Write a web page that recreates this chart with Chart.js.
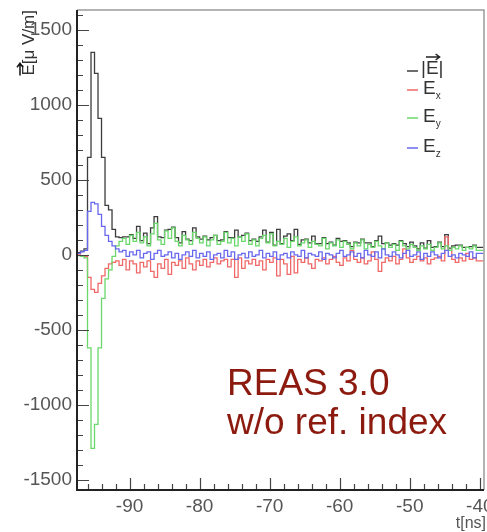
<!DOCTYPE html>
<html>
<head>
<meta charset="utf-8">
<script src="https://cdn.jsdelivr.net/npm/chart.js@4.4.1/dist/chart.umd.min.js"></script>
<style>
html, body { margin: 0; padding: 0; background: #fff; }
#wrap { position: relative; width: 487px; height: 532px; }
</style>
</head>
<body>
<div id="wrap"><canvas id="chart"></canvas></div>
<script>
// histogram bins: 0.5 ns wide, first bin starts at -97.5 ns
const binStart = -97.5;
const binWidth = 0.5;
const xTicks = [-90, -80, -70, -60, -50, -40];
const yTicks = [-1500, -1000, -500, 0, 500, 1000, 1500];

// |E|, Ex, Ey, Ez in µV/m, one value per bin
const eAbs = [10,15,25,40,650,1350,1210,910,650,330,
  300,170,120,115,120,120,135,110,190,95,
  145,75,180,255,120,115,165,170,185,115,
  80,155,105,95,180,120,105,125,100,115,
  130,95,100,155,115,115,165,120,130,145,
  95,105,90,120,165,85,150,65,170,75,
  125,140,95,170,70,100,105,80,125,75,
  75,115,75,85,65,110,90,95,80,55,
  85,80,105,80,80,55,95,125,75,80,
  65,75,65,95,75,55,85,60,40,80,
  45,95,50,55,85,55,135,45,60,65,
  65,50,50,55,65,50];
const eX = [0,0,-5,-10,-150,-230,-250,-190,-140,-90,
  -60,-50,-40,-70,-30,-100,-40,-60,-120,-50,
  -80,-40,-110,-150,-60,-90,-30,-130,-50,-70,
  -40,-90,-20,-60,-100,-40,-70,-30,-80,-50,
  -20,-60,-40,-30,-80,-30,-150,-20,-90,-40,
  -60,-30,-70,-40,-100,-30,-50,-20,-140,-30,
  -60,-130,-10,-120,-30,-50,-20,-60,-90,-30,
  -40,-20,-60,-30,-10,-50,-70,-20,-40,30,
  -30,-50,-20,-60,-40,20,-30,-110,-50,-20,
  -40,-10,-60,-30,40,-20,-50,-30,-10,-40,
  -20,-60,-30,-20,-10,-40,120,30,-30,-50,
  -20,-40,10,-30,-20,-40];
const eY = [0,-5,-10,-20,-620,-1290,-1130,-620,-290,-160,
  -100,-10,60,90,110,70,130,90,150,80,
  120,60,140,210,100,70,160,110,180,90,
  60,130,100,70,150,110,80,120,60,100,
  130,70,90,150,80,110,60,120,90,140,
  70,100,60,110,130,80,140,60,90,70,
  110,50,90,120,60,80,100,50,90,70,
  60,110,40,80,60,100,50,90,70,40,
  80,60,100,40,70,50,90,60,40,80,
  50,70,30,90,60,40,70,50,30,60,
  40,70,30,50,80,40,60,30,50,40,
  60,30,50,40,60,30];
const eZ = [5,10,20,30,290,350,340,270,190,130,
  90,60,40,20,30,-10,20,0,30,-20,
  10,20,-30,10,30,-10,0,20,-20,10,
  -30,0,20,-10,30,-20,10,-10,20,-30,
  0,10,-20,30,-10,20,-30,0,10,-20,
  20,-10,0,30,-20,10,-10,20,-30,0,
  10,-20,20,0,-10,30,-20,10,0,-10,
  20,-30,10,0,-20,10,30,-10,0,20,
  -10,10,-20,30,0,-10,20,-20,40,0,
  -10,20,0,-20,10,30,-10,0,20,-30,
  10,-10,20,0,-20,10,30,-10,0,-20,
  10,0,-10,20,-20,10];

const legendSubs = ['', 'x', 'y', 'z'];
const lineColors = ['#3c3c3c', '#f06868', '#6ad86a', '#6868ee'];

function toSteps(vals) {
    const pts = vals.map((v, i) => ({ x: binStart + i * binWidth, y: v }));
    pts.push({ x: binStart + vals.length * binWidth, y: vals[vals.length - 1] });
    return pts;
}

function series(vals, color, order) {
    return {
        data: toSteps(vals),
        borderColor: color,
        borderWidth: 1.3,
        stepped: 'after',
        pointRadius: 0,
        fill: false,
        order: order
    };
}

const FONT = '"Liberation Sans", Arial, sans-serif';

// frame, inner ticks, legend, titles and the REAS note
const decor = {
    id: 'decor',
    afterDraw(chart) {
        const ctx = chart.ctx;
        const a = chart.chartArea;
        const xs = chart.scales.x, ys = chart.scales.y;
        ctx.save();

        // top and right border
        ctx.strokeStyle = '#9a9a9a';
        ctx.lineWidth = 1.5;
        ctx.beginPath();
        ctx.moveTo(a.left, a.top); ctx.lineTo(a.right, a.top); ctx.lineTo(a.right, a.bottom);
        ctx.stroke();

        // ticks
        ctx.strokeStyle = '#444';
        ctx.lineWidth = 1.2;
        ctx.beginPath();
        for (let v = -1500; v <= 1600; v += 100) {
            const y = Math.round(ys.getPixelForValue(v)) + 0.5;
            const len = (v % 500 === 0) ? 12 : 6;
            ctx.moveTo(a.left, y); ctx.lineTo(a.left + len, y);
        }
        for (let v = -96; v <= -40; v += 2) {
            const x = Math.round(xs.getPixelForValue(v)) + 0.5;
            const len = (v % 10 === 0) ? 12 : 6;
            ctx.moveTo(x, a.bottom); ctx.lineTo(x, a.bottom - len);
        }
        ctx.stroke();

        // left and bottom axis lines
        ctx.strokeStyle = '#222';
        ctx.lineWidth = 2;
        ctx.beginPath();
        ctx.moveTo(a.left, a.top); ctx.lineTo(a.left, a.bottom); ctx.lineTo(a.right, a.bottom);
        ctx.stroke();

        // legend
        const ly = [66, 89, 117, 147];
        legendSubs.forEach((sub, i) => {
            const y = ly[i];
            ctx.strokeStyle = lineColors[i];
            ctx.lineWidth = 1.5;
            ctx.beginPath();
            ctx.moveTo(407, y + (i === 0 ? 5 : 1)); ctx.lineTo(418, y + (i === 0 ? 5 : 1));
            ctx.stroke();
            ctx.fillStyle = '#333';
            ctx.textBaseline = 'middle';
            ctx.textAlign = 'left';
            ctx.font = '19px ' + FONT;
            if (i === 0) {
                ctx.fillText('|', 421, y + 3);
                const ex = 421 + ctx.measureText('|').width;
                ctx.fillText('E', ex, y + 3);
                const ew = ctx.measureText('E').width;
                ctx.fillText('|', ex + ew, y + 3);
                // vector arrow over E
                ctx.strokeStyle = '#222';
                ctx.lineWidth = 1.5;
                ctx.beginPath();
                ctx.moveTo(ex, y - 9); ctx.lineTo(ex + ew + 1, y - 9);
                ctx.moveTo(ex + ew - 3, y - 12); ctx.lineTo(ex + ew + 1, y - 9); ctx.lineTo(ex + ew - 3, y - 6);
                ctx.stroke();
            } else {
                ctx.fillText('E', 423, y);
                const ew = ctx.measureText('E').width;
                ctx.font = '10px ' + FONT;
                ctx.fillText(sub, 423 + ew, y + 7);
            }
        });

        // y title, rotated, ending at the top
        ctx.save();
        ctx.translate(29, 10);
        ctx.rotate(-Math.PI / 2);
        ctx.font = '17px ' + FONT;
        ctx.fillStyle = '#333';
        ctx.textBaseline = 'middle';
        ctx.textAlign = 'left';
        const rest = '[μ V/m]';
        const rw = ctx.measureText(rest).width;
        const ew = ctx.measureText('E').width;
        const x0 = -(rw + ew);
        ctx.fillText('E', x0, 0);
        ctx.fillText(rest, x0 + ew, 0);
        ctx.strokeStyle = '#111';
        ctx.lineWidth = 1.5;
        ctx.beginPath();
        ctx.moveTo(x0, -9); ctx.lineTo(x0 + ew + 1, -9);
        ctx.moveTo(x0 + ew - 3, -12); ctx.lineTo(x0 + ew + 1, -9); ctx.lineTo(x0 + ew - 3, -6);
        ctx.stroke();
        ctx.restore();

        // x title
        ctx.font = '16px ' + FONT;
        ctx.fillStyle = '#555';
        ctx.textAlign = 'right';
        ctx.textBaseline = 'middle';
        ctx.fillText('t[ns]', 486, 524);

        // note
        ctx.font = '37px ' + FONT;
        ctx.fillStyle = '#8c1a0e';
        ctx.textAlign = 'left';
        ctx.textBaseline = 'alphabetic';
        ctx.fillText('REAS 3.0', 227, 395);
        ctx.fillText('w/o ref. index', 227, 434);

        ctx.restore();
    }
};

new Chart(document.getElementById('chart'), {
    type: 'line',
    data: {
        datasets: [
            series(eAbs, lineColors[0], 4),
            series(eX, lineColors[1], 3),
            series(eY, lineColors[2], 2),
            series(eZ, lineColors[3], 1)
        ]
    },
    options: {
        responsive: true,
        maintainAspectRatio: false,
        animation: false,
        layout: { autoPadding: false, padding: { top: 10, right: 3, left: 0, bottom: 0 } },
        plugins: { legend: { display: false }, tooltip: { enabled: false } },
        scales: {
            x: {
                type: 'linear',
                min: -97.5,
                max: -39.4,
                grid: { display: false, drawTicks: false },
                border: { display: false },
                afterBuildTicks: s => { s.ticks = xTicks.map(v => ({ value: v })); },
                afterFit: s => { s.height = 42; s.paddingLeft = 0; s.paddingRight = 0; },
                ticks: { autoSkip: false, maxRotation: 0, padding: 5, color: '#555',
                    font: { size: 19, family: FONT }, callback: v => String(v) }
            },
            y: {
                type: 'linear',
                min: -1567,
                max: 1633,
                grid: { display: false, drawTicks: false },
                border: { display: false },
                afterBuildTicks: s => { s.ticks = yTicks.map(v => ({ value: v })); },
                afterFit: s => { s.width = 77; s.paddingTop = 0; s.paddingBottom = 0; },
                ticks: { autoSkip: false, padding: 5, color: '#555',
                    font: { size: 19, family: FONT }, callback: v => String(v) }
            }
        }
    },
    plugins: [decor]
});
</script>
</body>
</html>
